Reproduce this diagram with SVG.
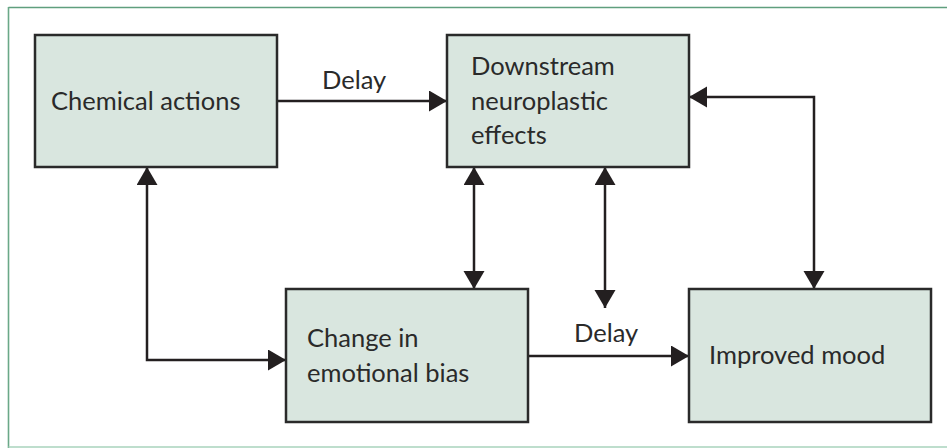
<svg xmlns="http://www.w3.org/2000/svg" width="947" height="448" viewBox="0 0 947 448">
<style>
.box{fill:#d9e6df;stroke:#2a2a2a;stroke-width:2.5}
.lbl{font-family:Lato,"Liberation Sans",sans-serif;font-size:25.5px;fill:#2a2a2a}
.conn{fill:none;stroke:#231f20;stroke-width:2.5}
</style>
<defs>
<marker id="ah" markerUnits="userSpaceOnUse" markerWidth="19" markerHeight="22" refX="18" refY="10.5" orient="auto-start-reverse" viewBox="0 0 19 22">
<path d="M0,0 L18,10.5 L0,21 Z" fill="#231f20"/>
</marker>
</defs>
<rect width="947" height="448" fill="#ffffff"/>
<g id="frame">
<line x1="8.5" y1="7.5" x2="947" y2="7.5" stroke="#5f9f7e" stroke-width="1.6"/>
<line x1="8.5" y1="7" x2="8.5" y2="448" stroke="#6aa888" stroke-width="1.6"/>
<line x1="8.5" y1="447" x2="947" y2="447" stroke="#a9d3bd" stroke-width="1.6"/>
</g>
<g id="connectors">
<path class="conn" d="M277,101 H447" marker-end="url(#ah)"/>
<path class="conn" d="M528,356 H689" marker-end="url(#ah)"/>
<path class="conn" d="M147,167 V360 H286" marker-start="url(#ah)" marker-end="url(#ah)"/>
<path class="conn" d="M474,167 V289" marker-start="url(#ah)" marker-end="url(#ah)"/>
<path class="conn" d="M605,167 V308" marker-start="url(#ah)" marker-end="url(#ah)"/>
<path class="conn" d="M689,97 H814 V289" marker-start="url(#ah)" marker-end="url(#ah)"/>
<text class="lbl" x="322" y="89">Delay</text>
<text class="lbl" x="574" y="342">Delay</text>
</g>
<g id="chemical">
<rect class="box" x="35" y="35" width="242" height="132"/>
<text class="lbl" x="51" y="110">Chemical actions</text>
</g>
<g id="downstream">
<rect class="box" x="447" y="35" width="242" height="132"/>
<text class="lbl" x="471" y="75">Downstream</text>
<text class="lbl" x="471" y="110">neuroplastic</text>
<text class="lbl" x="471" y="144">effects</text>
</g>
<g id="emotional">
<rect class="box" x="286" y="289" width="242" height="133"/>
<text class="lbl" x="307" y="347">Change in</text>
<text class="lbl" x="307" y="382">emotional bias</text>
</g>
<g id="mood">
<rect class="box" x="689" y="289" width="242" height="133"/>
<text class="lbl" x="709" y="364">Improved mood</text>
</g>
</svg>
